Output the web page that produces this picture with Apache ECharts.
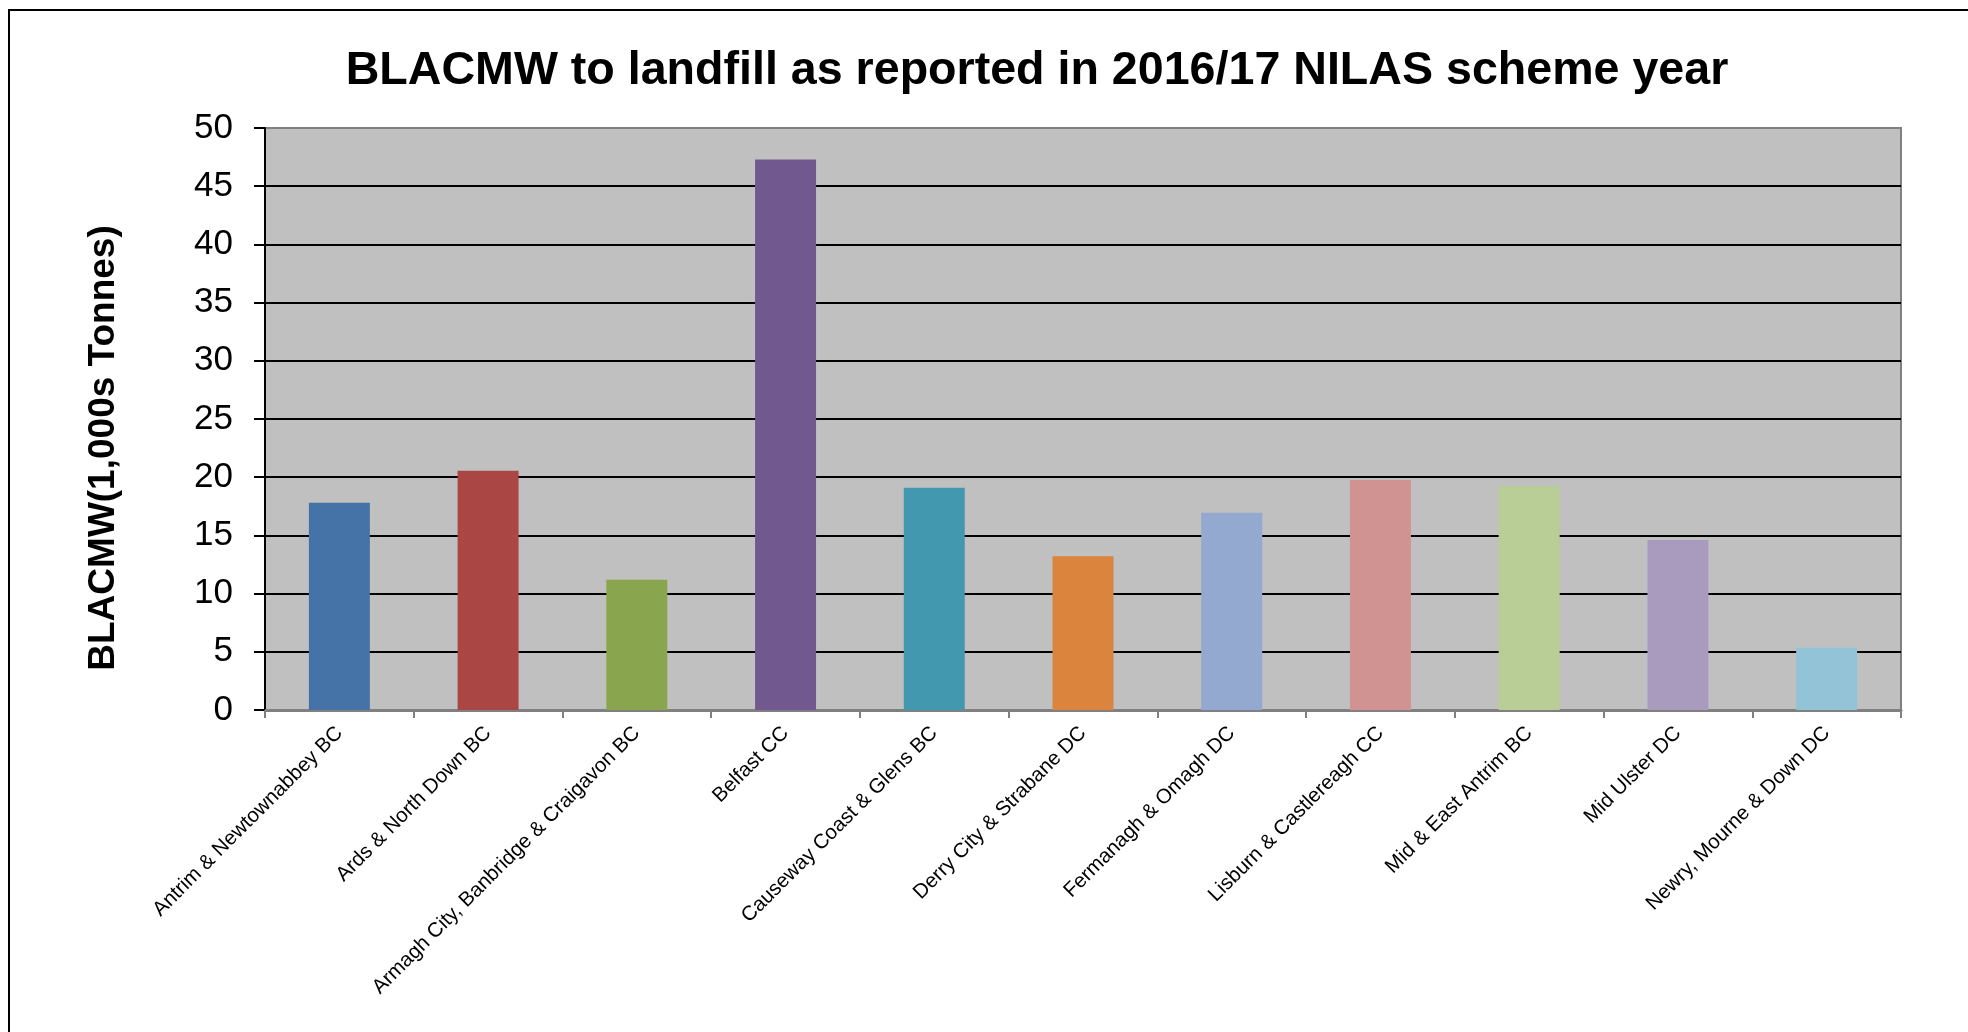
<!DOCTYPE html>
<html>
<head>
<meta charset="utf-8">
<script src="https://cdn.jsdelivr.net/npm/echarts@6/dist/echarts.min.js"></script>
<style>
html,body{margin:0;padding:0;background:#fff;}
#chart{width:1968px;height:1032px;}
</style>
</head>
<body>
<div id="chart"></div>
<script>
var categories = [
  "Antrim & Newtownabbey BC",
  "Ards & North Down BC",
  "Armagh City, Banbridge & Craigavon BC",
  "Belfast CC",
  "Causeway Coast & Glens BC",
  "Derry City & Strabane DC",
  "Fermanagh & Omagh DC",
  "Lisburn & Castlereagh CC",
  "Mid & East Antrim BC",
  "Mid Ulster DC",
  "Newry, Mourne & Down DC"
];
var values = [17.8, 20.55, 11.2, 47.3, 19.1, 13.2, 16.95, 19.75, 19.25, 14.6, 5.35];
var barColors = ["#4572A7", "#AA4643", "#89A54E", "#71588F", "#4198AF", "#DB843D",
                 "#93A9CF", "#D19392", "#B9CD96", "#A99BBD", "#92C3D6"];
var yTicks = [0, 5, 10, 15, 20, 25, 30, 35, 40, 45, 50];
var titleText = "BLACMW to landfill as reported in 2016/17 NILAS scheme year";
var yAxisTitle = "BLACMW(1,000s Tonnes)";

var FONT = "'Liberation Sans', Arial, sans-serif";
var chart = echarts.init(document.getElementById('chart'), null, {renderer: 'canvas'});
var option = {
  animation: false,
  backgroundColor: '#ffffff',
  textStyle: {fontFamily: FONT},
  graphic: [
    {type: 'rect', z: 100, shape: {x: 9, y: 10, width: 2100, height: 2100},
     style: {fill: 'none', stroke: '#000', lineWidth: 2}},
    {type: 'text', x: 1037, y: 71, z: 100,
     style: {text: titleText, fontFamily: FONT, fontWeight: 'bold', fontSize: 46.6,
             fill: '#000', textAlign: 'center', textVerticalAlign: 'middle'}},
    {type: 'text', x: 104, y: 448, rotation: Math.PI / 2, z: 100,
     style: {text: yAxisTitle, fontFamily: FONT, fontWeight: 'bold', fontSize: 37,
             fill: '#000', textAlign: 'center', textVerticalAlign: 'middle'}}
  ],
  grid: {left: 265, right: 67, top: 128, bottom: 322, show: true,
         backgroundColor: '#C0C0C0', borderColor: '#808080', borderWidth: 2},
  xAxis: {
    type: 'category', data: categories,
    axisLine: {show: true, lineStyle: {color: '#808080', width: 3}},
    axisTick: {show: true, length: 8, alignWithLabel: false, lineStyle: {color: '#808080', width: 2}},
    axisLabel: {rotate: 45, interval: 0, fontSize: 20.5, color: '#000', margin: 20, fontFamily: FONT},
    splitLine: {show: false}
  },
  yAxis: {
    type: 'value', min: yTicks[0], max: yTicks[yTicks.length - 1], interval: 5,
    axisLine: {show: true, lineStyle: {color: '#000', width: 2}},
    axisTick: {show: true, length: 11, lineStyle: {color: '#000', width: 2}},
    axisLabel: {fontSize: 35, color: '#000', margin: 32, fontFamily: FONT},
    splitLine: {show: true, showMinLine: false, showMaxLine: false, lineStyle: {color: '#000', width: 2}}
  },
  series: [{
    type: 'bar',
    barWidth: '41%',
    data: values.map(function (v, i) { return {value: v, itemStyle: {color: barColors[i]}}; })
  }]
};
chart.setOption(option);
</script>
</body>
</html>
